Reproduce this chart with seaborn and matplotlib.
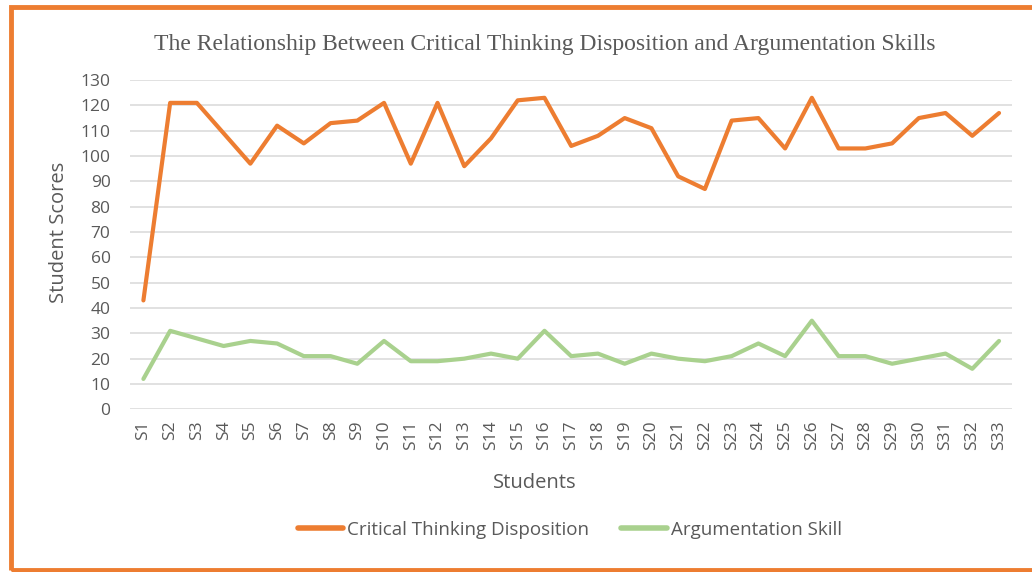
import pandas as pd
import matplotlib.pyplot as plt
import seaborn as sns
from matplotlib.patches import Rectangle

students = ['S' + str(i) for i in range(1, 34)]
critical_thinking = [43, 121, 121, 109, 97, 112, 105, 113, 114, 121, 97, 121, 96, 107, 122, 123,
                     104, 108, 115, 111, 92, 87, 114, 115, 103, 123, 103, 103, 105, 115, 117, 108, 117]
argumentation = [12, 31, 28, 25, 27, 26, 21, 21, 18, 27, 19, 19, 20, 22, 20, 31,
                 21, 22, 18, 22, 20, 19, 21, 26, 21, 35, 21, 21, 18, 20, 22, 16, 27]
series_names = ['Critical Thinking Disposition', 'Argumentation Skill']

df = pd.DataFrame({'Students': students * 2,
                   'Score': critical_thinking + argumentation,
                   'Series': [series_names[0]] * 33 + [series_names[1]] * 33})

sns.set_style('white')
plt.rcParams['font.family'] = ['Open Sans', 'DejaVu Sans']
grey = '#595959'

fig = plt.figure(figsize=(10.32, 5.72), dpi=100)
ax = fig.add_axes([0.126, 0.2844, 0.855, 0.5756])

sns.lineplot(data=df, x='Students', y='Score', hue='Series', palette=['#ED7D31', '#A9D18E'],
             linewidth=3, ax=ax, legend=False, sort=False)

ax.set_xlim(-0.5, 32.5)
ax.set_ylim(0, 130)
ax.set_yticks(range(0, 131, 10))
ax.yaxis.grid(True, color='#dcdcdc', linewidth=1.2)
ax.xaxis.grid(False)
ax.set_axisbelow(True)
for s in ax.spines.values():
    s.set_visible(False)
ax.tick_params(axis='both', length=0, labelsize=12.5, colors=grey)
ax.tick_params(axis='x', rotation=90, pad=8)
ax.tick_params(axis='y', pad=14)
ax.set_xlabel('Students', fontsize=14.5, color=grey)
ax.set_ylabel('Student Scores', fontsize=14.5, color=grey)
ax.xaxis.set_label_coords(0.459, -0.192)
ax.yaxis.set_label_coords(-0.069, 0.538)

fig.text(0.528, 0.923, 'The Relationship Between Critical Thinking Disposition and Argumentation Skills',
         family='Liberation Serif', fontsize=17, color=grey, ha='center', va='center')

handles = [plt.Line2D([], [], color='#ED7D31', linewidth=4, solid_capstyle='round'),
           plt.Line2D([], [], color='#A9D18E', linewidth=4, solid_capstyle='round')]
leg = fig.legend(handles, series_names, loc='center', bbox_to_anchor=(0.552, 0.0734), ncol=2,
                 frameon=False, fontsize=13.5, handlelength=2.45, handletextpad=0.2, columnspacing=1.7)
for t in leg.get_texts():
    t.set_color(grey)

fig.patches.append(Rectangle((0.0111, 0.0035), 1.05, 0.9843, transform=fig.transFigure,
                             fill=False, edgecolor='#ED7D31', linewidth=3.5, figure=fig))

fig.savefig('out.png', dpi=100)
